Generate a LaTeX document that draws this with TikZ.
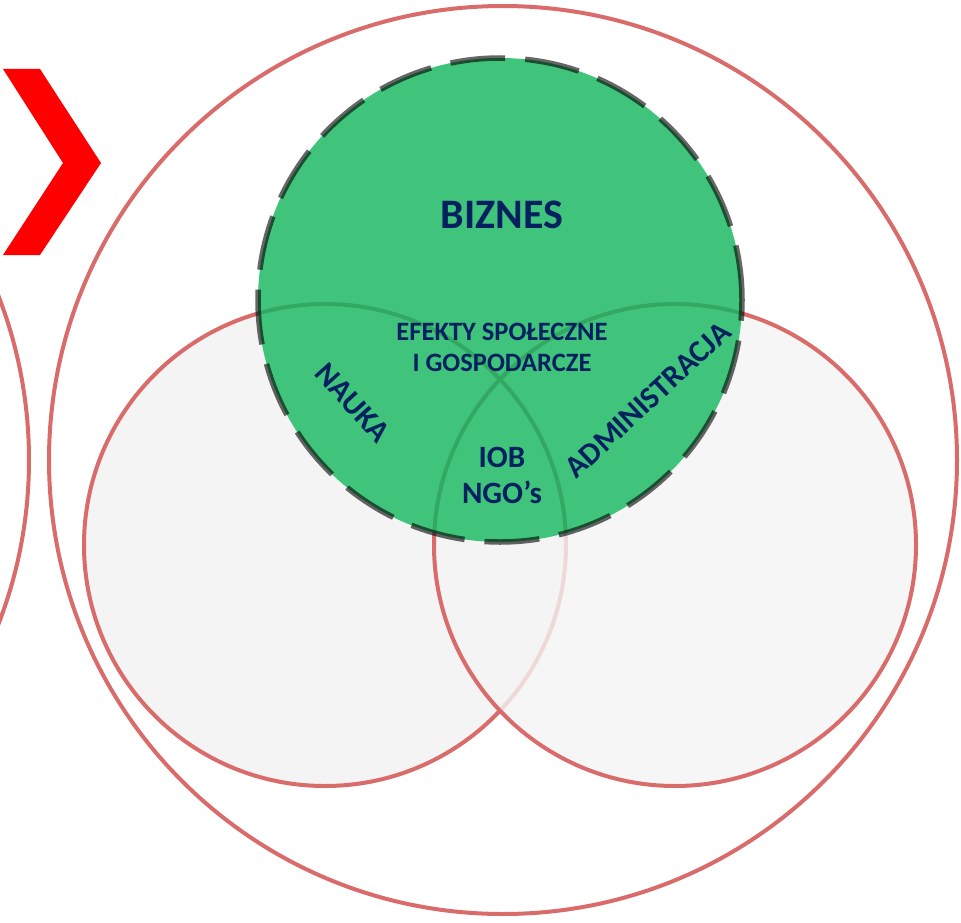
\documentclass[tikz,border=0pt]{standalone}
\usepackage{fontspec}
\setmainfont{Carlito}
\usepackage{tikz}
\usetikzlibrary{positioning}
\definecolor{ringred}{HTML}{D96B6B}
\definecolor{sectorgray}{HTML}{F4F4F4}
\definecolor{bizgreen}{HTML}{40C47B}
\definecolor{seamgreen}{HTML}{33A862}
\definecolor{navy}{HTML}{002060}
\begin{document}
\begin{tikzpicture}[x=1pt,y=-1pt]
\tikzstyle{ring}=[circle, draw=ringred, line width=4pt, inner sep=0pt]
\tikzstyle{sector}=[ring, fill=sectorgray, minimum size=482pt]
\tikzstyle{biz}=[circle, fill=bizgreen, inner sep=0pt, minimum size=484pt]
\tikzstyle{rim}=[circle, draw=black, draw opacity=0.6, line width=5.5pt,
dash pattern=on 55pt off 20pt, inner sep=0pt, minimum size=484pt]
\tikzstyle{lbl}=[text=navy, font=\bfseries\fontsize{31}{36}\selectfont,
align=center, inner sep=0pt]

\useasboundingbox (0,0) rectangle (961,923);
\clip (0,0) rectangle (961,923);

% outer rings
\node (outer) [ring, minimum size=908pt] at (503,460) {};
\node (prev) [ring, minimum size=908pt] at (-425,460) {};

% chevron
\fill[red] (3,69) -- (40,69) -- (101,163) -- (40,255) -- (3,255) -- (63,163) -- cycle;

% science and administration
\node (nauka) [sector] at (325,545) {};
\node (admin) [sector, fill opacity=0.8] at (675,545) {};

% business
\node (biznes) [biz] at (500,300) {};
\begin{scope}
\clip (500,300) circle (242);
\draw[seamgreen, line width=4pt] (325,545) circle (241);
\draw[seamgreen, line width=4pt] (675,545) circle (241);
\end{scope}
\node (bizrim) [rim] at (500,300) {};

% labels
\node (tbiz) [lbl, font=\bfseries\fontsize{42}{46}\selectfont] at (502,215) {BIZNES};
\node (tefekt) [lbl, font=\bfseries\fontsize{26.5}{31}\selectfont] at (502,347) {EFEKTY SPOŁECZNE\\I GOSPODARCZE};
\node (tnauka) [lbl, rotate=-48] at (353,403) {NAUKA};
\node (tadmin) [lbl, rotate=43] at (648,400) {ADMINISTRACJA};
\node (tiob) [lbl] at (502,475) {IOB\\NGO’s};
\end{tikzpicture}
\end{document}
